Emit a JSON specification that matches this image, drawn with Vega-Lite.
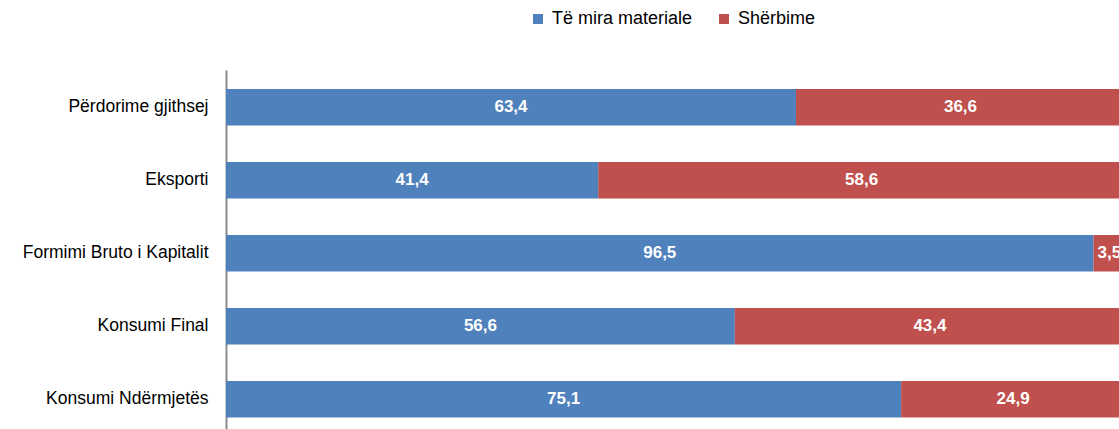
{
  "$schema": "https://vega.github.io/schema/vega-lite/v6.json",
  "width": 893,
  "height": 359,
  "autosize": {"type": "none"},
  "padding": {"left": 226, "top": 70, "right": 0, "bottom": 0},
  "background": "white",
  "config": {
    "view": {"stroke": null},
    "locale": {"number": {"decimal": ",", "thousands": ".", "grouping": [3], "currency": ["", " €"]}}
  },
  "data": {
    "values": [
      {"category": "Përdorime gjithsej", "type": "Të mira materiale", "order": 1, "value": 63.4},
      {"category": "Përdorime gjithsej", "type": "Shërbime", "order": 2, "value": 36.6},
      {"category": "Eksporti", "type": "Të mira materiale", "order": 1, "value": 41.4},
      {"category": "Eksporti", "type": "Shërbime", "order": 2, "value": 58.6},
      {"category": "Formimi Bruto i Kapitalit\u00a0\u00a0", "type": "Të mira materiale", "order": 1, "value": 96.5},
      {"category": "Formimi Bruto i Kapitalit\u00a0\u00a0", "type": "Shërbime", "order": 2, "value": 3.5},
      {"category": "Konsumi Final\u00a0\u00a0", "type": "Të mira materiale", "order": 1, "value": 56.6},
      {"category": "Konsumi Final\u00a0\u00a0", "type": "Shërbime", "order": 2, "value": 43.4},
      {"category": "Konsumi Ndërmjetës", "type": "Të mira materiale", "order": 1, "value": 75.1},
      {"category": "Konsumi Ndërmjetës", "type": "Shërbime", "order": 2, "value": 24.9}
    ]
  },
  "transform": [
    {"stack": "value", "groupby": ["category"], "sort": [{"field": "order", "order": "ascending"}], "as": ["v0", "v1"]},
    {"calculate": "(datum.v0 + datum.v1) / 2", "as": "vmid"}
  ],
  "encoding": {
    "y": {
      "field": "category",
      "type": "nominal",
      "sort": null,
      "title": null,
      "scale": {"paddingInner": 0.5, "paddingOuter": 0.209, "align": 0.623},
      "axis": {
        "domainColor": "#8c8c8c",
        "domainWidth": 2,
        "ticks": false,
        "labelPadding": 18,
        "labelLimit": 300,
        "labelFont": "Liberation Sans",
        "labelFontSize": 17.5,
        "labelColor": "#000000",
        "grid": false
      }
    }
  },
  "layer": [
    {
      "mark": {"type": "bar", "clip": true},
      "encoding": {
        "x": {
          "field": "v0",
          "type": "quantitative",
          "scale": {"domain": [0, 99.33], "nice": false, "zero": true},
          "axis": null
        },
        "x2": {"field": "v1"},
        "color": {
          "field": "type",
          "type": "nominal",
          "scale": {"domain": ["Të mira materiale", "Shërbime"], "range": ["#4F81BD", "#C0504D"]},
          "legend": {
            "title": null,
            "orient": "none",
            "direction": "horizontal",
            "legendX": 303,
            "legendY": -60,
            "symbolType": "square",
            "symbolSize": 100,
            "symbolStrokeWidth": 0,
            "labelFont": "Liberation Sans",
            "labelFontSize": 18,
            "labelColor": "#000000",
            "labelOffset": 5,
            "labelLimit": 300,
            "columnPadding": 22
          }
        }
      }
    },
    {
      "mark": {"type": "text", "color": "white", "font": "Liberation Sans", "fontWeight": "bold", "fontSize": 17, "baseline": "middle", "align": "center"},
      "encoding": {
        "x": {"field": "vmid", "type": "quantitative"},
        "text": {"field": "value", "type": "quantitative", "format": ".1f"}
      }
    }
  ]
}
